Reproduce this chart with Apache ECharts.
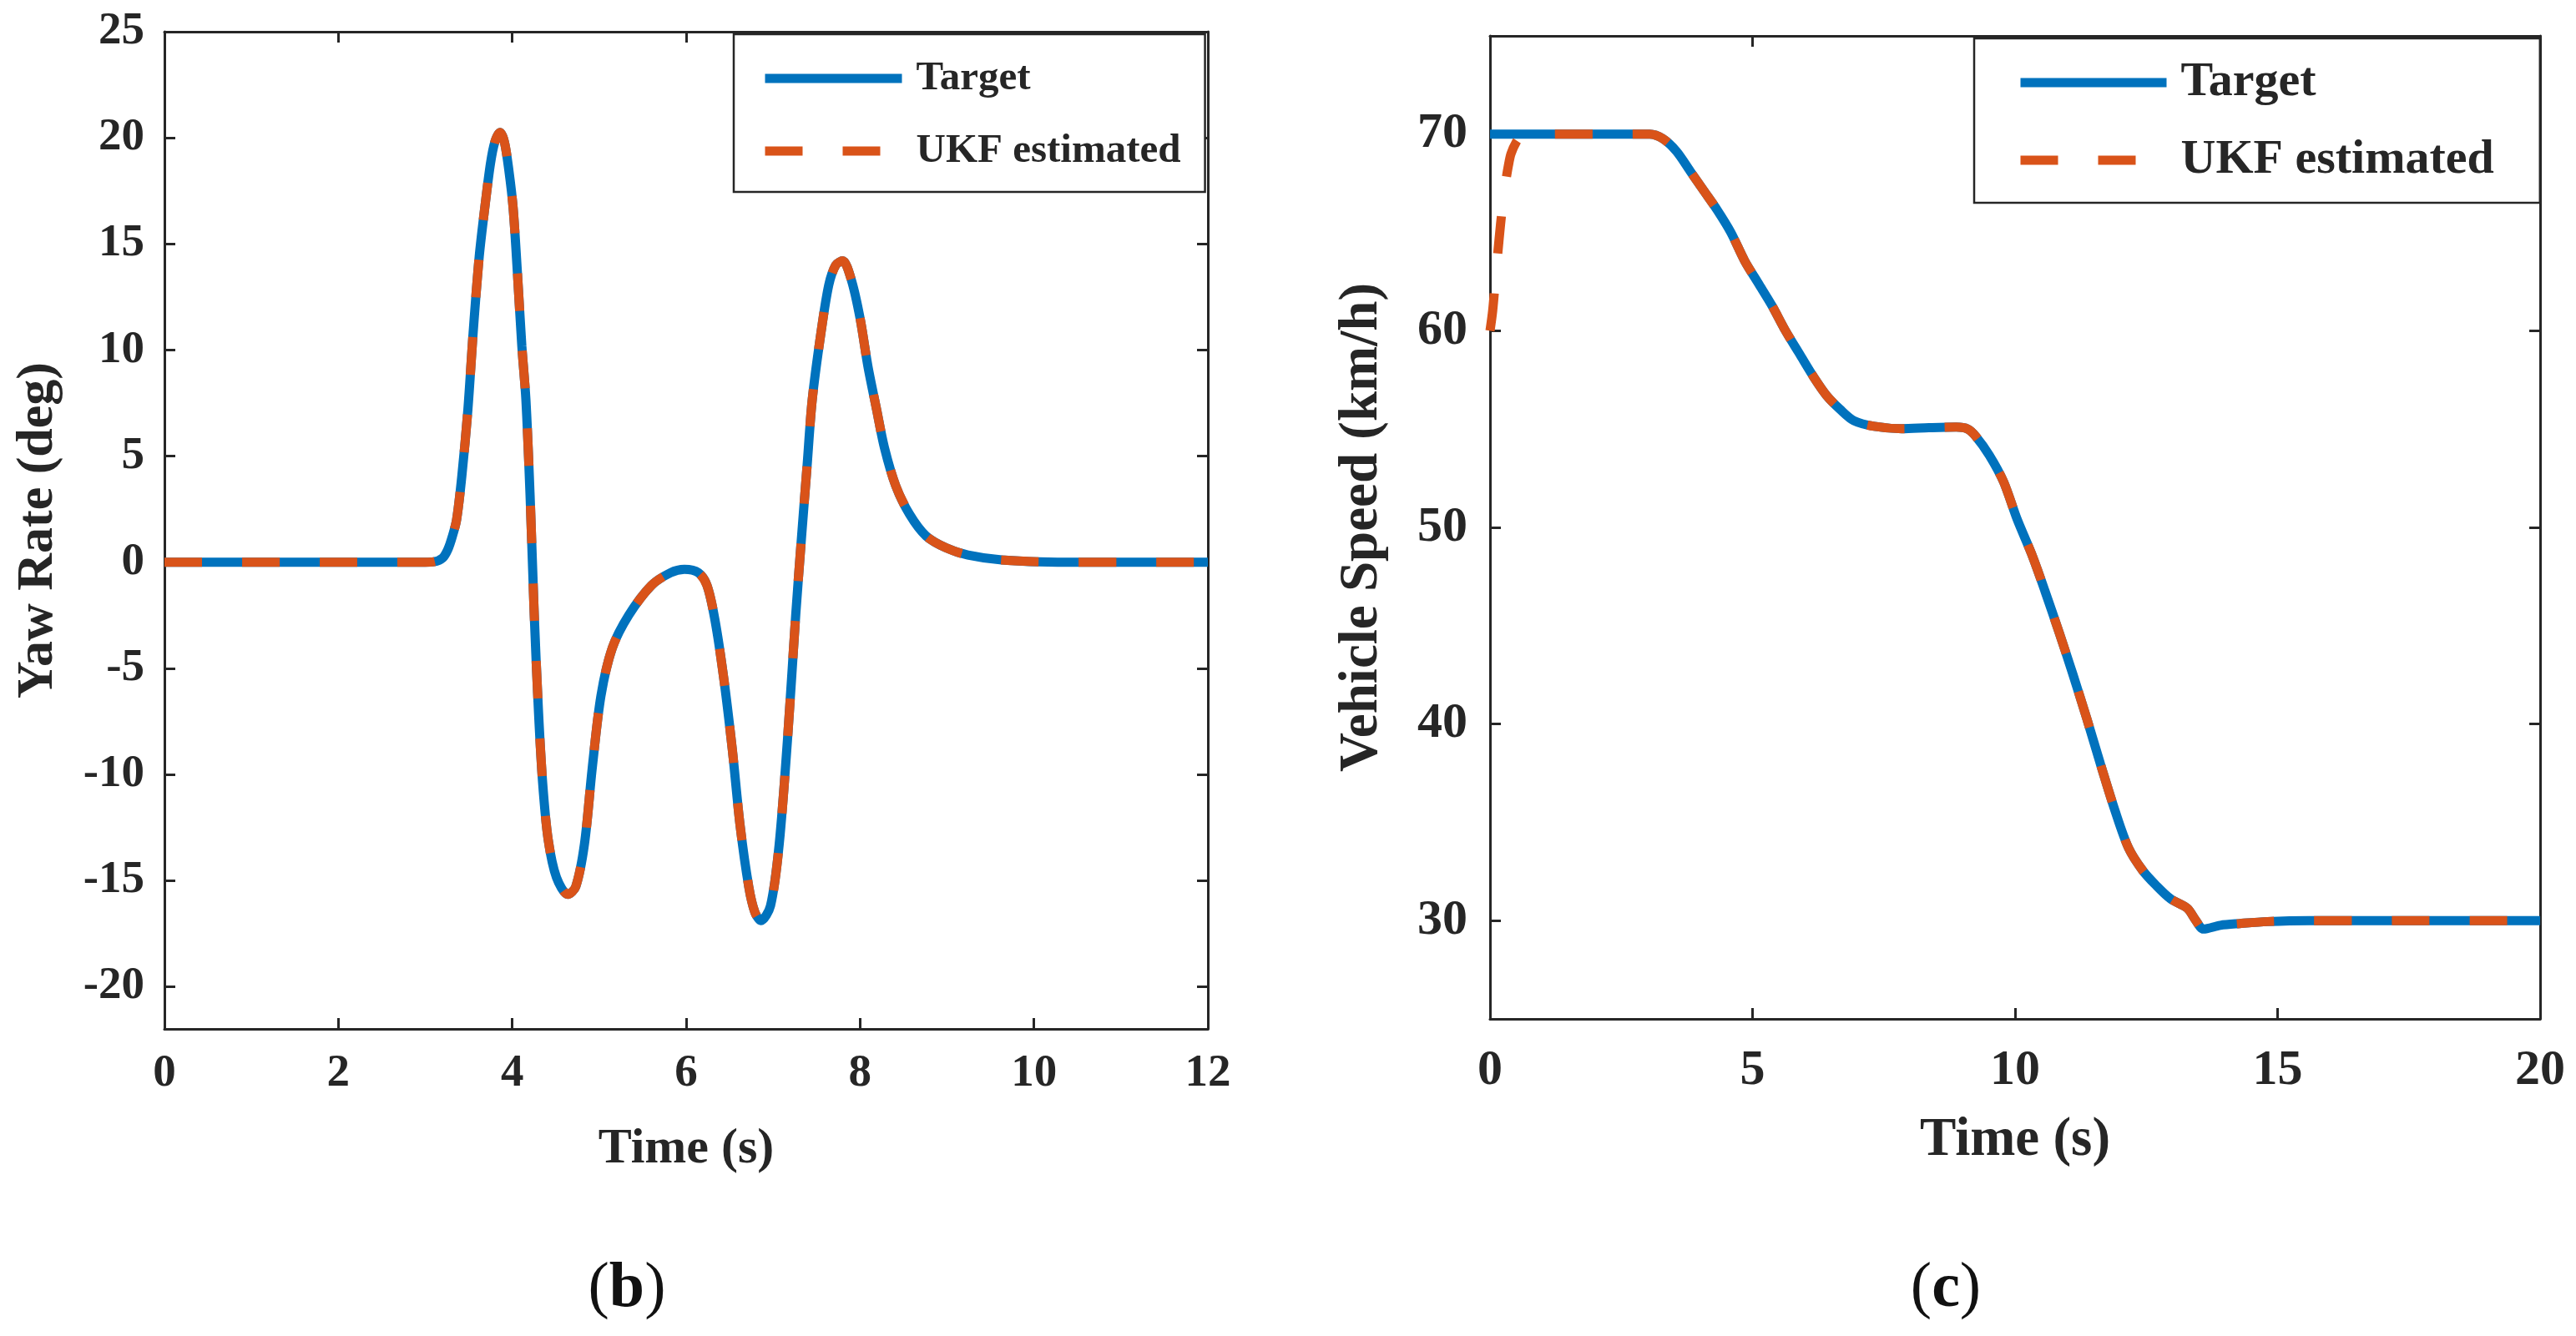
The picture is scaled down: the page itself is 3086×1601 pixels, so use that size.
<!DOCTYPE html>
<html>
<head>
<meta charset="utf-8">
<script src="https://cdn.jsdelivr.net/npm/echarts@6/dist/echarts.min.js"></script>
<style>
html,body{margin:0;padding:0;background:#fff;}
#chart{width:3086px;height:1601px;}
</style>
</head>
<body>
<div id="chart"></div>
<script>
// ---------- (b) Yaw rate ----------
const yawTime = [0,0.5,1,1.5,2,2.5,3,3.1,3.2,3.26,3.31,3.36,3.42,3.49,3.55,3.62,3.69,3.75,3.8,3.86,3.91,3.96,4.01,4.06,4.11,4.157,4.205,4.253,4.301,4.349,4.413,4.509,4.64,4.73,4.83,4.92,5.02,5.15,5.34,5.6,5.82,5.98,6.14,6.24,6.33,6.43,6.53,6.62,6.72,6.79,6.86,6.97,7.07,7.17,7.26,7.33,7.39,7.45,7.55,7.64,7.72,7.8,7.9,8.0,8.09,8.19,8.28,8.41,8.57,8.76,8.99,9.24,9.63,10.27,11,12];
const yawTarget = [0,0,0,0,0,0,0,0.02,0.2,0.6,1.2,2.0,4.05,7.2,10.8,14.4,16.9,18.8,19.8,20.25,19.8,18.5,16.7,13.6,10.2,7.66,3.15,-2.48,-6.98,-10.37,-13.07,-14.87,-15.66,-15.3,-13.3,-9.7,-6.3,-4.05,-2.5,-1.1,-0.5,-0.34,-0.5,-1.1,-2.7,-5.4,-8.8,-12.4,-15.3,-16.5,-16.9,-16.2,-13.3,-8.1,-2.5,1.35,4.5,7.66,10.8,13.06,14.0,14.2,13.3,11.5,9.24,7.2,5.4,3.6,2.25,1.23,0.67,0.33,0.1,0,0,0];
const yawUKF = [0,0,0,0,0,0,0,0.02,0.2,0.6,1.2,2.0,4.05,7.2,10.8,14.4,16.9,18.8,19.8,20.25,19.8,18.5,16.7,13.6,10.2,7.66,3.15,-2.48,-6.98,-10.37,-13.07,-14.87,-15.66,-15.3,-13.3,-9.7,-6.3,-4.05,-2.5,-1.1,-0.5,-0.34,-0.5,-1.1,-2.7,-5.4,-8.8,-12.4,-15.3,-16.5,-16.9,-16.2,-13.3,-8.1,-2.5,1.35,4.5,7.66,10.8,13.06,14.0,14.2,13.3,11.5,9.24,7.2,5.4,3.6,2.25,1.23,0.67,0.33,0.1,0,0,0];
const yawXTicks = [0,2,4,6,8,10,12];
const yawYTicks = [-20,-15,-10,-5,0,5,10,15,20,25];

// ---------- (c) Vehicle speed ----------
const speedTime = [0,1,2,3.04,3.29,3.55,3.81,4.07,4.33,4.59,4.85,5.11,5.37,5.63,5.89,6.15,6.41,6.67,6.93,7.32,7.84,8.36,8.88,9.1,9.25,9.51,9.78,10.04,10.31,10.57,10.84,11.1,11.37,11.63,11.9,12.16,12.43,12.69,12.96,13.28,13.43,13.59,13.91,14.28,14.81,15.6,17,20];
const speedTarget = [70,70,70,70,69.77,69.13,68.13,67.13,66.13,64.99,63.56,62.42,61.28,59.99,58.85,57.71,56.71,56.0,55.43,55.14,55.02,55.07,55.1,55.0,54.64,53.67,52.33,50.41,48.68,46.76,44.65,42.54,40.24,37.93,35.62,33.7,32.55,31.78,31.11,30.63,30.06,29.57,29.76,29.85,29.95,30,30,30];
const ukfTime = [0,0.05,0.1,0.15,0.2,0.25,0.3,0.35,0.4,0.5,0.6,0.8,1,2,3.04,3.29,3.55,3.81,4.07,4.33,4.59,4.85,5.11,5.37,5.63,5.89,6.15,6.41,6.67,6.93,7.32,7.84,8.36,8.88,9.1,9.25,9.51,9.78,10.04,10.31,10.57,10.84,11.1,11.37,11.63,11.9,12.16,12.43,12.69,12.96,13.28,13.43,13.59,13.91,14.28,14.81,15.6,17,20];
const speedUKF = [60,61,62.5,64,65.4,66.6,67.6,68.4,69.0,69.6,69.9,70,70,70,70,69.77,69.13,68.13,67.13,66.13,64.99,63.56,62.42,61.28,59.99,58.85,57.71,56.71,56.0,55.43,55.14,55.02,55.07,55.1,55.0,54.64,53.67,52.33,50.41,48.68,46.76,44.65,42.54,40.24,37.93,35.62,33.7,32.55,31.78,31.11,30.63,30.06,29.57,29.76,29.85,29.95,30,30,30];
const speedXTicks = [0,5,10,15,20];
const speedYTicks = [30,40,50,60,70];

const seriesNames = ['Target','UKF estimated'];
const captions = ['b','c'];

const FONT = 'Liberation Serif';
const INK = '#262626';
const BLUE = '#0072BD';
const ORANGE = '#D95319';

const zip = (xs, ys) => xs.map((x, i) => [x, ys[i]]);

function xAxisPair(grid, min, max, interval, fs, margin, nameSize, nameGap) {
  const common = {
    type: 'value', gridIndex: grid, min: min, max: max, interval: interval,
    axisLine: {show: true, onZero: false, lineStyle: {color: INK, width: 3}},
    axisTick: {show: true, inside: true, length: 13, lineStyle: {color: INK, width: 3}},
    splitLine: {show: false}
  };
  return [
    Object.assign({}, common, {
      position: 'bottom',
      axisLabel: {show: true, margin: margin, fontFamily: FONT, fontWeight: 'bold', fontSize: fs, color: INK},
      name: 'Time (s)', nameLocation: 'middle', nameGap: nameGap,
      nameTextStyle: {fontFamily: FONT, fontWeight: 'bold', fontSize: nameSize, color: INK}
    }),
    Object.assign({}, common, {position: 'top', axisLabel: {show: false}})
  ];
}

function yAxisPair(grid, min, max, ticks, fs, margin, name, nameSize, nameGap) {
  const common = {
    type: 'value', gridIndex: grid, min: min, max: max,
    axisLine: {show: true, onZero: false, lineStyle: {color: INK, width: 3}},
    axisTick: {show: true, inside: true, length: 13, customValues: ticks, lineStyle: {color: INK, width: 3}},
    splitLine: {show: false}
  };
  return [
    Object.assign({}, common, {
      position: 'left',
      axisLabel: {show: true, customValues: ticks, margin: margin, fontFamily: FONT, fontWeight: 'bold', fontSize: fs, color: INK},
      name: name, nameLocation: 'middle', nameGap: nameGap,
      nameTextStyle: {fontFamily: FONT, fontWeight: 'bold', fontSize: nameSize, color: INK}
    }),
    Object.assign({}, common, {position: 'right', axisLabel: {show: false, customValues: ticks}})
  ];
}

function legendBox(left, top, padding, itemWidth, gap, fs, lh) {
  return {
    data: seriesNames, orient: 'vertical', left: left, top: top, padding: padding,
    itemWidth: itemWidth, itemHeight: 12, itemGap: gap, selectedMode: false,
    borderColor: INK, borderWidth: 2.5, backgroundColor: '#fff',
    itemStyle: {opacity: 0},
    lineStyle: {width: 11, opacity: 1},
    textStyle: {fontFamily: FONT, fontWeight: 'bold', fontSize: fs, lineHeight: lh, color: INK, padding: [0, 0, 0, 12]}
  };
}

function lineSeries(name, data, xi, yi, color, dashed) {
  return {
    type: 'line', name: name, data: data, xAxisIndex: xi, yAxisIndex: yi,
    symbol: 'none', showSymbol: false, smooth: 0.3,
    lineStyle: {color: color, width: 11, type: dashed ? [45, 48] : 'solid', cap: 'butt'},
    itemStyle: {color: color}, z: dashed ? 3 : 2, silent: true
  };
}

const xa = xAxisPair(0, 0, 12, 2, 55, 26, 60, 114).concat(xAxisPair(1, 0, 20, 5, 60, 32, 65, 114));
const ya = yAxisPair(0, -22, 25, yawYTicks, 55, 24, 'Yaw Rate (deg)', 62, 120)
  .concat(yAxisPair(1, 25, 75, speedYTicks, 60, 27, 'Vehicle Speed (km/h)', 65, 120));

const captionRich = {
  p: {fontFamily: FONT, fontSize: 76, fontWeight: 'normal', fill: '#111', color: '#111'},
  b: {fontFamily: FONT, fontSize: 76, fontWeight: 'bold', fill: '#111', color: '#111'}
};

const option = {
  animation: false,
  backgroundColor: '#ffffff',
  grid: [
    {left: 197, top: 38, width: 1250, height: 1195},
    {left: 1785, top: 43, width: 1258, height: 1178}
  ],
  xAxis: xa,
  yAxis: ya,
  legend: [
    legendBox(879, 41, [25, 29, 21, 32], 164, 31, 49, 56),
    legendBox(2365, 46, [21, 55, 19, 50], 175, 29, 58, 64)
  ],
  series: [
    lineSeries(seriesNames[0], zip(yawTime, yawTarget), 0, 0, BLUE, false),
    lineSeries(seriesNames[1], zip(yawTime, yawUKF), 0, 0, ORANGE, true),
    lineSeries(seriesNames[0], zip(speedTime, speedTarget), 2, 2, BLUE, false),
    lineSeries(seriesNames[1], zip(ukfTime, speedUKF), 2, 2, ORANGE, true)
  ],
  graphic: [
    {type: 'text', x: 751, y: 1545, style: {text: '{p|(}{b|' + captions[0] + '}{p|)}', rich: captionRich, textAlign: 'center', textVerticalAlign: 'middle'}},
    {type: 'text', x: 2331, y: 1545, style: {text: '{p|(}{b|' + captions[1] + '}{p|)}', rich: captionRich, textAlign: 'center', textVerticalAlign: 'middle'}}
  ]
};

const chart = echarts.init(document.getElementById('chart'), null, {renderer: 'canvas'});
chart.setOption(option);
</script>
</body>
</html>
